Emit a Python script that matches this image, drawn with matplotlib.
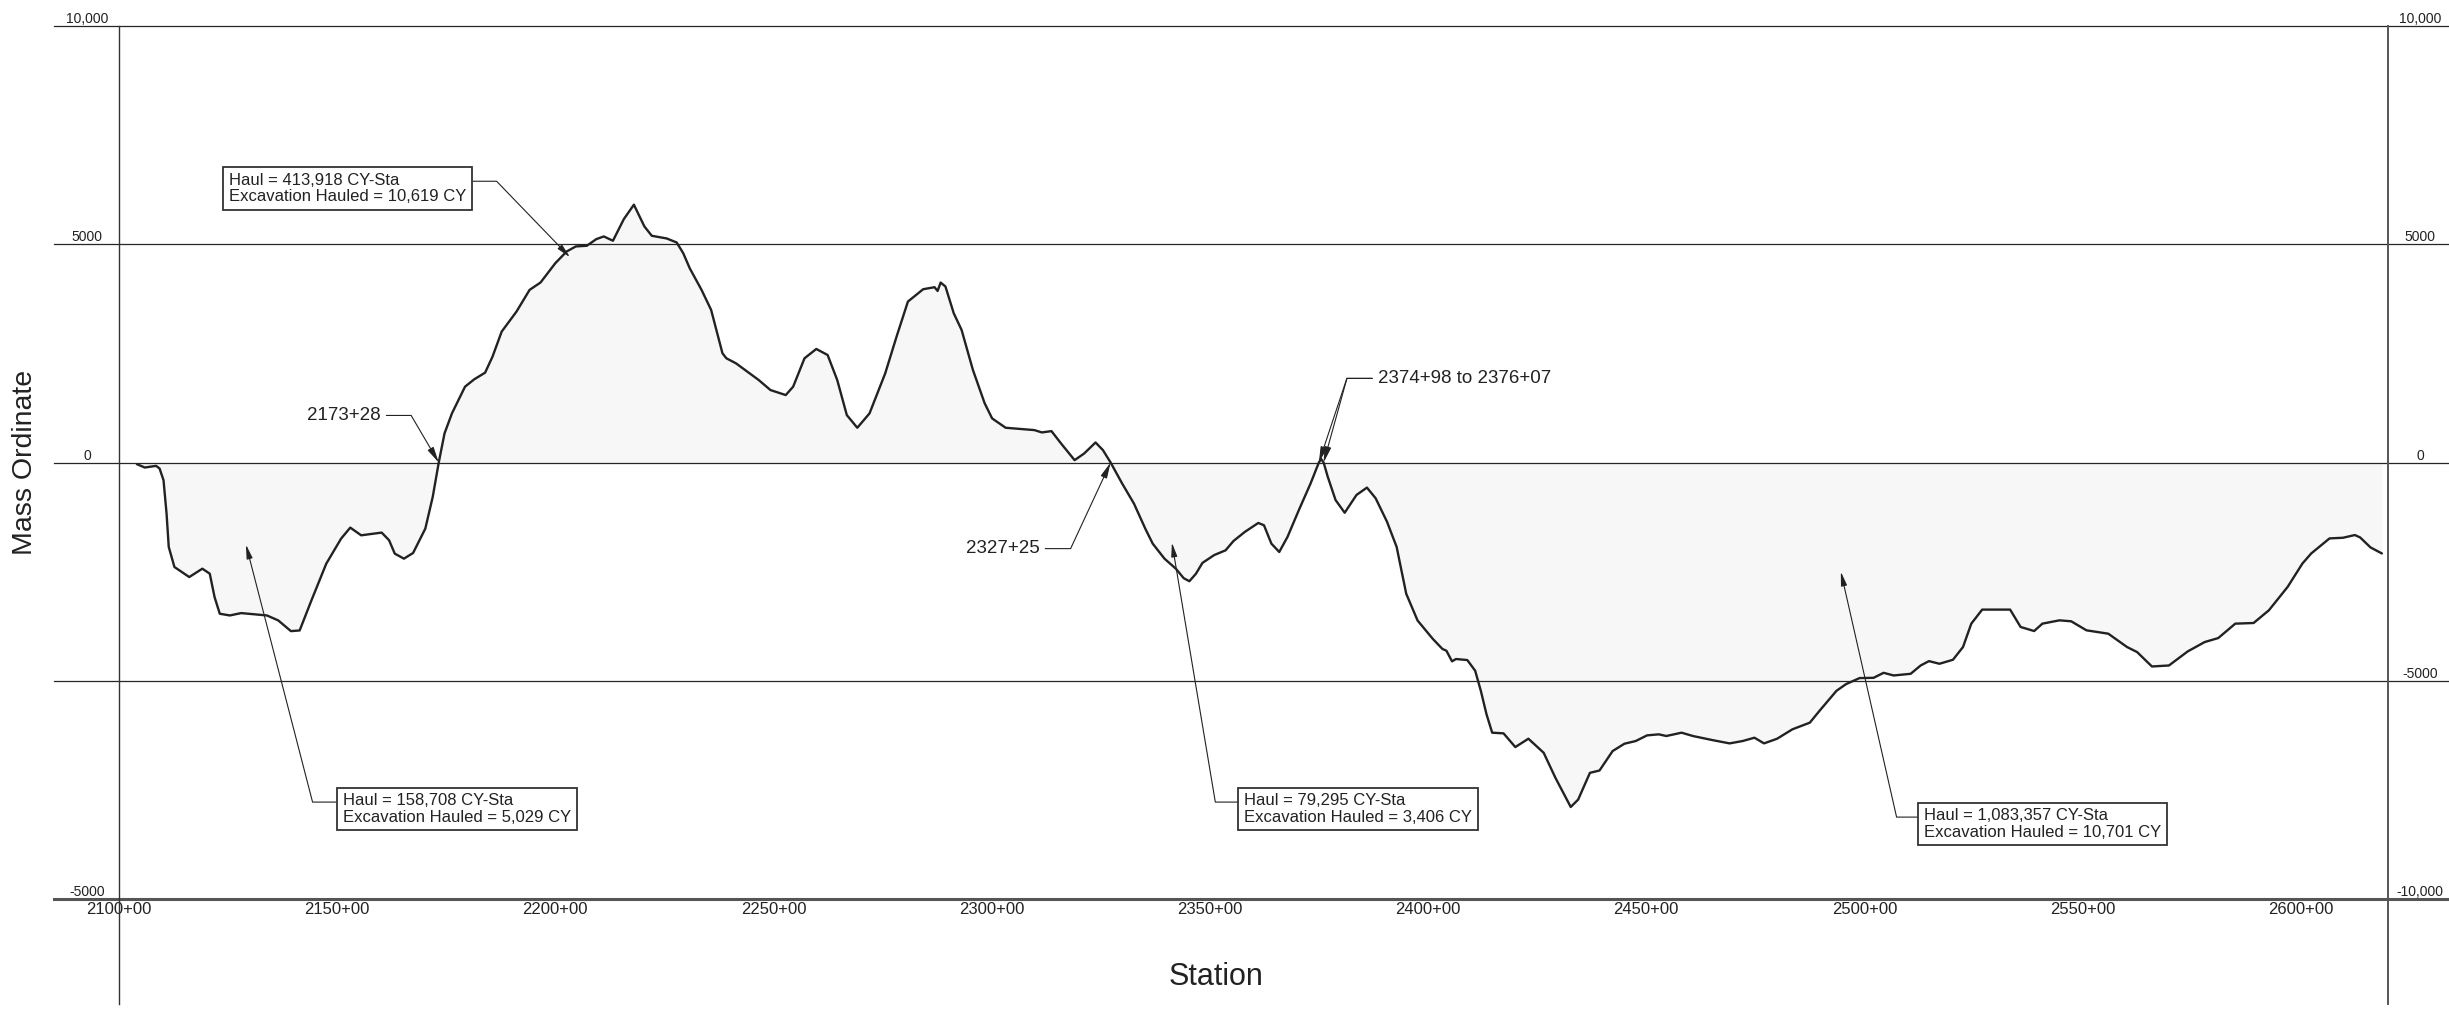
import matplotlib
matplotlib.use("Agg")
import matplotlib.pyplot as plt
from matplotlib import font_manager as fm

# ---------------- data ----------------
stations = [
    2104.1, 2105.9, 2108.5, 2109.3, 2110.2, 2110.9, 2111.4, 2112.7, 2116.1, 2119.1,
    2120.8, 2121.9, 2123.1, 2125.4, 2128.0, 2133.9, 2136.5, 2139.4, 2141.4, 2144.1,
    2147.5, 2150.9, 2153.0, 2155.5, 2160.2, 2161.9, 2163.2, 2165.3, 2167.4, 2170.2,
    2171.9, 2173.28, 2174.6, 2176.3, 2179.3, 2181.4, 2183.9, 2185.6, 2187.7, 2191.1,
    2194.1, 2196.6, 2200.0, 2202.6, 2204.7, 2207.2, 2209.4, 2211.1, 2213.2, 2215.7,
    2218.0, 2220.4, 2222.1, 2225.5, 2227.8, 2229.3, 2230.8, 2233.5, 2235.7, 2238.3,
    2239.2, 2241.4, 2244.0, 2246.6, 2249.3, 2252.8, 2254.5, 2257.1, 2259.8, 2262.4,
    2264.6, 2266.8, 2269.2, 2272.0, 2275.6, 2278.2, 2280.8, 2284.3, 2286.9, 2287.6,
    2288.3, 2289.4, 2291.3, 2293.1, 2295.7, 2298.4, 2300.1, 2303.2, 2307.1, 2309.8,
    2311.5, 2313.7, 2315.9, 2319.0, 2321.2, 2323.8, 2325.5, 2327.25, 2329.9, 2332.6,
    2335.2, 2336.9, 2339.6, 2342.2, 2344.0, 2345.3, 2346.8, 2348.3, 2351.0, 2353.6,
    2355.4, 2358.0, 2361.1, 2362.4, 2364.1, 2365.9, 2367.8, 2370.4, 2373.1, 2374.98,
    2375.5, 2376.07, 2377.0, 2378.8, 2380.9, 2383.6, 2386.0, 2388.0, 2390.6, 2392.8,
    2395.0, 2397.6, 2401.1, 2403.3, 2404.2, 2405.5, 2406.4, 2409.0, 2410.8, 2412.1,
    2413.4, 2414.7, 2417.3, 2420.0, 2423.0, 2426.5, 2429.2, 2432.7, 2434.4, 2437.1,
    2439.3, 2442.3, 2445.0, 2447.6, 2450.2, 2452.9, 2454.6, 2458.1, 2460.7, 2465.1,
    2469.1, 2472.1, 2474.8, 2477.0, 2480.0, 2483.5, 2487.5, 2489.7, 2493.6, 2495.8,
    2498.9, 2502.1, 2504.4, 2506.7, 2510.6, 2512.9, 2514.8, 2517.2, 2520.3, 2522.6,
    2524.5, 2527.0, 2531.5, 2533.4, 2535.8, 2538.9, 2540.8, 2544.7, 2547.4, 2550.9,
    2555.9, 2560.2, 2562.5, 2565.9, 2569.8, 2574.1, 2578.0, 2581.1, 2585.0, 2589.2,
    2592.7, 2597.0, 2600.4, 2602.4, 2606.6, 2609.7, 2612.4, 2613.6, 2616.0, 2618.6,
]
mass_ordinate = [
    -38, -115, -77, -138, -405, -1170, -1935, -2394, -2624, -2433,
    -2547, -3083, -3465, -3504, -3450, -3504, -3618, -3863, -3848, -3159,
    -2318, -1744, -1492, -1668, -1606, -1782, -2088, -2203, -2073, -1515,
    -788, 0, 666, 1125, 1737, 1905, 2058, 2425, 2999, 3458,
    3955, 4123, 4567, 4835, 4950, 4965, 5118, 5179, 5080, 5577,
    5906, 5409, 5194, 5133, 5041, 4797, 4450, 3955, 3496, 2502,
    2387, 2272, 2081, 1890, 1660, 1545, 1737, 2387, 2601, 2463,
    1890, 1086, 796, 1125, 2043, 2884, 3687, 3970, 4016, 3930,
    4123, 4032, 3420, 3037, 2119, 1354, 1010, 796, 765, 742,
    689, 719, 436, 54, 207, 459, 283, 0, -482, -941,
    -1515, -1859, -2203, -2433, -2650, -2720, -2550, -2300, -2120, -2012,
    -1800, -1591, -1385, -1438, -1859, -2050, -1703, -1089, -476, 0,
    80, 0, -322, -859, -1151, -744, -575, -821, -1358, -1933,
    -3007, -3620, -4042, -4272, -4311, -4556, -4502, -4526, -4770, -5231,
    -5768, -6190, -6205, -6519, -6328, -6650, -7225, -7892, -7723, -7110,
    -7056, -6611, -6443, -6381, -6251, -6228, -6266, -6190, -6266, -6358,
    -6435, -6381, -6305, -6435, -6328, -6113, -5960, -5691, -5231, -5077,
    -4939, -4933, -4818, -4879, -4841, -4650, -4550, -4611, -4519, -4228,
    -3692, -3370, -3370, -3370, -3768, -3861, -3692, -3616, -3638, -3845,
    -3922, -4228, -4343, -4673, -4650, -4328, -4113, -4022, -3692, -3677,
    -3386, -2850, -2313, -2084, -1739, -1724, -1662, -1716, -1946, -2084,
]

x_ticks = [2100, 2150, 2200, 2250, 2300, 2350, 2400, 2450, 2500, 2550, 2600]
x_tick_labels = ["2100+00", "2150+00", "2200+00", "2250+00", "2300+00", "2350+00",
                 "2400+00", "2450+00", "2500+00", "2550+00", "2600+00"]
left_ticks = [10000, 5000, 0, -10000]
left_tick_labels = ["10,000", "5000", "0", "-5000"]
right_ticks = [10000, 5000, 0, -5000, -10000]
right_tick_labels = ["10,000", "5000", "0", "-5000", "-10,000"]
grid_levels = [10000, 5000, 0, -5000]

haul_texts = [
    "Haul = 413,918 CY-Sta\nExcavation Hauled = 10,619 CY",
    "Haul = 158,708 CY-Sta\nExcavation Hauled = 5,029 CY",
    "Haul = 79,295 CY-Sta\nExcavation Hauled = 3,406 CY",
    "Haul = 1,083,357 CY-Sta\nExcavation Hauled = 10,701 CY",
]
haul_text_pos = [(2125.2, 6286), (2151.3, -7937), (2357.8, -7937), (2513.6, -8281)]
haul_targets = [(2203.35, 4703), (2129.1, -1881), (2341.3, -1835), (2494.6, -2500)]
haul_side = [1, 0, 0, 0]
haul_angle = [-46, 104.5, 99.5, 102.8]

balance_labels = ["2173+28", "2327+25"]
balance_stations = [2173.28, 2327.25]
balance_text_pos = [(2160.0, 1078), (2311.0, -1973)]
balance_angle = [-59.6, 65.1]

range_label = "2374+98 to 2376+07"
range_stations = [2374.98, 2376.07]
range_text_pos = (2388.5, 1927)
range_angle = [-108.4, -105.5]

# ---------------- style ----------------
names = {f.name for f in fm.fontManager.ttflist}
narrow = "Liberation Sans Narrow" if "Liberation Sans Narrow" in names else "Liberation Sans"
plt.rcParams["font.family"] = ["Liberation Sans", "DejaVu Sans"]

W, H = 2449, 1009
fig = plt.figure(figsize=(W / 100, H / 100), dpi=100)
fig.patch.set_facecolor("white")
ax = fig.add_axes([119 / W, 1 - 899 / H, 2269 / W, 873 / H])
ax.set_xlim(2100, 2620)
ax.set_ylim(-10000, 10000)
for s in ax.spines.values():
    s.set_visible(False)

line_c = "#262626"
xl, xr = -65 / 2269, 2330 / 2269
for lvl in grid_levels:
    ax.axhline(lvl, xmin=xl, xmax=xr, color=line_c, lw=0.9, clip_on=False, zorder=2)
ax.axhline(-10000, xmin=xl, xmax=xr, color="#555555", lw=2.2, clip_on=False, zorder=2)
ax.axvline(2100, ymin=-105 / 873, ymax=1, color="#333333", lw=1.0, clip_on=False, zorder=2)
ax.axvline(2620, ymin=-105 / 873, ymax=1, color="#555555", lw=1.4, clip_on=False, zorder=2)

ax.fill_between(stations, mass_ordinate, 0, color="#f7f7f7", lw=0, zorder=1)
ax.plot(stations, mass_ordinate, color="#222222", lw=1.7, zorder=3,
        solid_joinstyle="round", solid_capstyle="round")

# ticks
ax.set_xticks(x_ticks)
ax.set_xticklabels(x_tick_labels, fontsize=12, family=narrow, color="#222222")
ax.tick_params(axis="x", length=0, pad=2)
ax.set_yticks(left_ticks)
ax.set_yticklabels(left_tick_labels, fontsize=10, color="#222222")
ax.tick_params(axis="y", length=0, pad=23)
for lab in ax.get_yticklabels():
    lab.set_ha("center")
    lab.set_va("bottom")

ax2 = ax.twinx()
ax2.set_ylim(-10000, 10000)
for s in ax2.spines.values():
    s.set_visible(False)
ax2.set_yticks(right_ticks)
ax2.set_yticklabels(right_tick_labels, fontsize=10, color="#222222")
ax2.tick_params(axis="y", length=0, pad=23)
for lab in ax2.get_yticklabels():
    lab.set_ha("center")
    lab.set_va("bottom")

ax.set_xlabel("Station", fontsize=22, family=narrow, color="#222222")
ax.xaxis.set_label_coords((1216 - 119) / 2269, -(962 - 899) / 873)
ax.set_ylabel("Mass Ordinate", fontsize=20.5, color="#222222")
ax.yaxis.set_label_coords(-(119 - 38) / 2269, 0.5)

# annotations
head = "-|>,head_length=0.7,head_width=0.15"
box_style = dict(boxstyle="square,pad=0.35", fc="white", ec="#333333", lw=1.3)
for txt, pos, tgt, side, ang in zip(haul_texts, haul_text_pos, haul_targets, haul_side, haul_angle):
    ax.annotate(txt, xy=tgt, xytext=pos, textcoords="data", ha="left", va="center",
                fontsize=12, linespacing=1.1, color="#222222", bbox=box_style, zorder=5,
                arrowprops=dict(arrowstyle=head, color="#222222", lw=0.8,
                                shrinkA=0, shrinkB=0, relpos=(side, 0.72),
                                connectionstyle=f"angle,angleA=0,angleB={ang},rad=0"))

for txt, sta, pos, ang in zip(balance_labels, balance_stations, balance_text_pos, balance_angle):
    ax.annotate(txt, xy=(sta, 0), xytext=pos, textcoords="data", ha="right", va="center",
                fontsize=13.5, color="#222222", zorder=5,
                arrowprops=dict(arrowstyle=head, color="#222222", lw=0.8,
                                shrinkA=2, shrinkB=0,
                                connectionstyle=f"angle,angleA=0,angleB={ang},rad=0"))

for i, (sta, ang) in enumerate(zip(range_stations, range_angle)):
    ax.annotate(range_label, xy=(sta, 0), xytext=range_text_pos, textcoords="data",
                ha="left", va="center", fontsize=13.5,
                color="#222222" if i == 0 else "none", zorder=5,
                arrowprops=dict(arrowstyle=head, color="#222222", lw=0.8,
                                shrinkA=2, shrinkB=0,
                                connectionstyle=f"angle,angleA=0,angleB={ang},rad=0"))

fig.savefig("out.png", dpi=100, facecolor="white")
